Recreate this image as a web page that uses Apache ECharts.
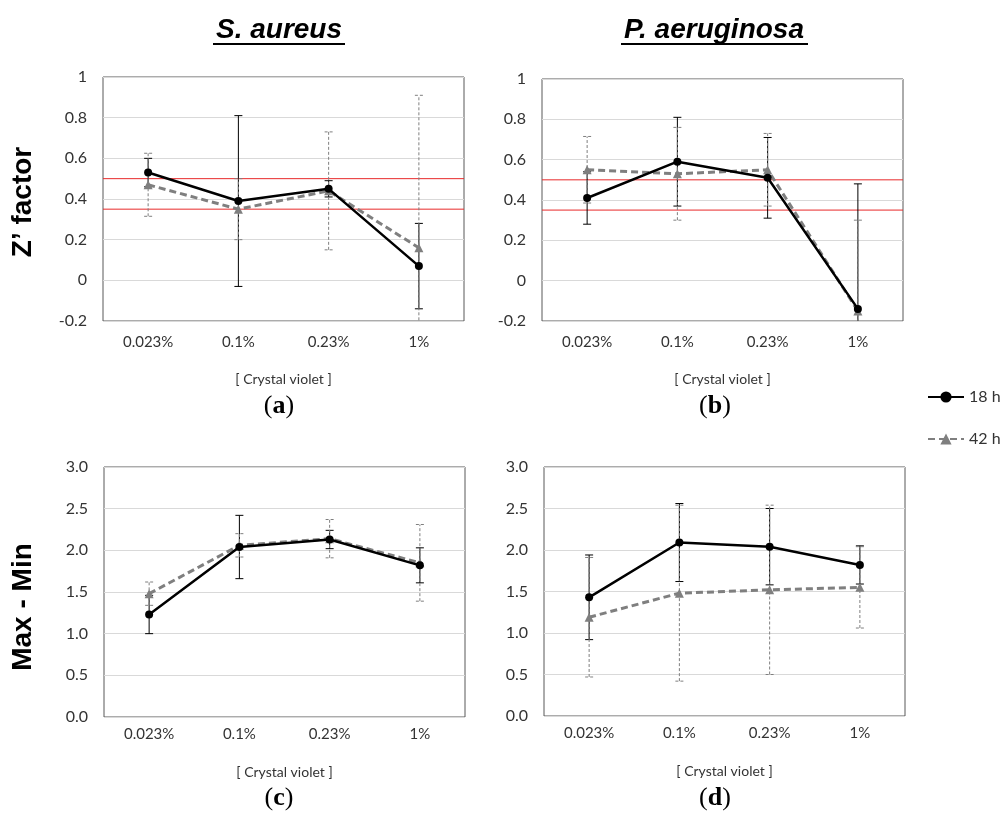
<!DOCTYPE html>
<html>
<head>
<meta charset="utf-8">
<script src="https://cdn.jsdelivr.net/npm/echarts@6/dist/echarts.min.js"></script>
<style>
html, body { margin: 0; padding: 0; background: #fff; }
#chart { width: 1008px; height: 834px; }
</style>
</head>
<body>
<div id="chart"></div>
<script>
// concentrations on the x axis
const categories = ['0.023%', '0.1%', '0.23%', '1%'];

// (a) S. aureus, Z' factor
const zAureus18 = [0.53, 0.39, 0.45, 0.07];
const zAureus18Err = [0.07, 0.42, 0.04, 0.21];
const zAureus42 = [0.47, 0.35, 0.44, 0.16];
const zAureus42Err = [0.155, 0.15, 0.29, 0.75];

// (b) P. aeruginosa, Z' factor
const zPaer18 = [0.41, 0.59, 0.51, -0.14];
const zPaer18Err = [0.13, 0.22, 0.2, 0.62];
const zPaer42 = [0.55, 0.53, 0.55, -0.15];
const zPaer42Err = [0.165, 0.23, 0.18, 0.45];

// (c) S. aureus, Max - Min
const mAureus18 = [1.23, 2.04, 2.13, 1.82];
const mAureus18Err = [0.23, 0.38, 0.11, 0.21];
const mAureus42 = [1.48, 2.06, 2.14, 1.85];
const mAureus42Err = [0.14, 0.14, 0.23, 0.46];

// (d) P. aeruginosa, Max - Min
const mPaer18 = [1.43, 2.09, 2.04, 1.82];
const mPaer18Err = [0.51, 0.47, 0.46, 0.23];
const mPaer42 = [1.19, 1.48, 1.52, 1.55];
const mPaer42Err = [0.72, 1.06, 1.02, 0.49];

// red threshold lines on the Z' panels
const zThresholds = [0.5, 0.35];

const BLACK = '#000000';
const GREY = '#7f7f7f';
const RED = '#e8292a';
const TICK_FONT = 'Lato';

function errData(vals, errs) {
    return vals.map((v, i) => [i, v - errs[i], v + errs[i]]);
}

function errRender(color, dashed) {
    return function (params, api) {
        const idx = api.value(0);
        const lo = api.coord([idx, api.value(1)]);
        const hi = api.coord([idx, api.value(2)]);
        const cap = 4;
        const style = { stroke: color, lineWidth: 1, lineDash: dashed ? [3, 2] : null };
        return {
            type: 'group',
            children: [
                { type: 'line', shape: { x1: lo[0], y1: lo[1], x2: hi[0], y2: hi[1] }, style: style },
                { type: 'line', shape: { x1: hi[0] - cap, y1: hi[1], x2: hi[0] + cap, y2: hi[1] }, style: style },
                { type: 'line', shape: { x1: lo[0] - cap, y1: lo[1], x2: lo[0] + cap, y2: lo[1] }, style: style }
            ]
        };
    };
}

// horizontal threshold line across the whole plot area
function thresholdRender(params, api) {
    const y = api.coord([0, api.value(0)])[1];
    const cs = params.coordSys;
    return {
        type: 'line',
        shape: { x1: cs.x, y1: y, x2: cs.x + cs.width, y2: y },
        style: { stroke: RED, lineWidth: 1 }
    };
}

const grids = [
    { left: 103, top: 77, width: 361, height: 244 },
    { left: 542, top: 79, width: 361, height: 242 },
    { left: 104, top: 467, width: 361, height: 250 },
    { left: 544, top: 467, width: 361, height: 249 }
];

const panels = [
    { s18: zAureus18, e18: zAureus18Err, s42: zAureus42, e42: zAureus42Err, z: true },
    { s18: zPaer18, e18: zPaer18Err, s42: zPaer42, e42: zPaer42Err, z: true },
    { s18: mAureus18, e18: mAureus18Err, s42: mAureus42, e42: mAureus42Err, z: false },
    { s18: mPaer18, e18: mPaer18Err, s42: mPaer42, e42: mPaer42Err, z: false }
];

let xAxes = [], yAxes = [], series = [];
panels.forEach((p, i) => {
    xAxes.push({
        type: 'category',
        gridIndex: i,
        data: categories,
        boundaryGap: true,
        axisTick: { show: false },
        axisLine: { show: false },
        axisLabel: { margin: p.z ? 14 : 10, fontSize: 15, color: '#333', fontFamily: TICK_FONT },
        name: '[ Crystal violet ]',
        nameLocation: 'middle',
        nameGap: p.z ? 51 : 48,
        nameTextStyle: { fontSize: 14, color: '#333', fontFamily: TICK_FONT }
    });
    yAxes.push({
        type: 'value',
        gridIndex: i,
        min: p.z ? -0.2 : 0,
        max: p.z ? 1 : 3,
        interval: p.z ? 0.2 : 0.5,
        axisLine: { show: false },
        axisTick: { show: false },
        splitLine: { lineStyle: { color: '#d9d9d9', width: 1 } },
        axisLabel: {
            margin: 16, fontSize: 16, color: '#333', fontFamily: TICK_FONT,
            formatter: p.z ? null : (v) => v.toFixed(1)
        }
    });
    if (p.z) {
        series.push({
            type: 'custom',
            xAxisIndex: i,
            yAxisIndex: i,
            data: zThresholds.map(t => [t]),
            encode: { y: 0 },
            renderItem: thresholdRender,
            silent: true,
            z: 1
        });
    }
    series.push({
        type: 'custom',
        xAxisIndex: i,
        yAxisIndex: i,
        data: errData(p.s18, p.e18),
        renderItem: errRender(BLACK, false),
        encode: { x: 0, y: [1, 2] },
        clip: true,
        silent: true,
        z: 2
    });
    series.push({
        type: 'custom',
        xAxisIndex: i,
        yAxisIndex: i,
        data: errData(p.s42, p.e42),
        renderItem: errRender(GREY, true),
        encode: { x: 0, y: [1, 2] },
        clip: true,
        silent: true,
        z: 2
    });
    series.push({
        name: '42 h',
        type: 'line',
        xAxisIndex: i,
        yAxisIndex: i,
        data: p.s42,
        symbol: 'triangle',
        symbolSize: 9,
        color: GREY,
        itemStyle: { color: GREY },
        lineStyle: { color: GREY, width: 3, type: [7, 4] },
        z: 3
    });
    series.push({
        name: '18 h',
        type: 'line',
        xAxisIndex: i,
        yAxisIndex: i,
        data: p.s18,
        symbol: 'circle',
        symbolSize: 8,
        color: BLACK,
        itemStyle: { color: BLACK },
        lineStyle: { color: BLACK, width: 2.5 },
        z: 4
    });
});

function titleText(text, cx, x1, x2) {
    return [
        {
            type: 'text', x: cx, y: 30,
            style: {
                text: text, align: 'center', verticalAlign: 'middle',
                textAlign: 'center', textVerticalAlign: 'middle',
                fontSize: 28, fontWeight: 'bold', fontStyle: 'italic',
                fontFamily: 'Liberation Sans', fill: '#000'
            }
        },
        { type: 'line', shape: { x1: x1, y1: 44, x2: x2, y2: 44 }, style: { stroke: '#000', lineWidth: 2 } }
    ];
}

function yName(text, cy) {
    return {
        type: 'text', x: 23, y: cy, rotation: Math.PI / 2,
        style: {
            text: text, align: 'center', verticalAlign: 'middle',
            textAlign: 'center', textVerticalAlign: 'middle',
            fontSize: 28, fontWeight: 'bold', fontFamily: 'Liberation Sans', fill: '#000'
        }
    };
}

function panelLabel(letter, cx, cy) {
    return {
        type: 'text', x: cx, y: cy,
        style: {
            text: '{p|(}{l|' + letter + '}{p|)}',
            align: 'center', verticalAlign: 'middle',
            textAlign: 'center', textVerticalAlign: 'middle',
            rich: {
                p: { fontSize: 26, fontFamily: 'Liberation Serif', color: '#000' },
                l: { fontSize: 26, fontWeight: 'bold', fontFamily: 'Liberation Serif', color: '#000' }
            }
        }
    };
}

const graphics = [].concat(
    titleText('S. aureus', 279, 213, 345),
    titleText('P. aeruginosa', 714, 621, 808),
    [
        yName('Z\u2019 factor', 202),
        yName('Max - Min', 607),
        panelLabel('a', 279, 406),
        panelLabel('b', 715, 406),
        panelLabel('c', 279, 798),
        panelLabel('d', 715, 798)
    ]
);

const myChart = echarts.init(document.getElementById('chart'));
myChart.setOption({
    animation: false,
    backgroundColor: '#fff',
    grid: grids.map(g => Object.assign({ show: true, borderColor: '#595959', borderWidth: 1, backgroundColor: 'transparent' }, g)),
    legend: {
        data: ['18 h', '42 h'],
        orient: 'vertical',
        left: 922,
        top: 384,
        itemWidth: 36,
        itemHeight: 14,
        itemGap: 26,
        textStyle: { fontSize: 16, color: '#333', fontFamily: TICK_FONT }
    },
    xAxis: xAxes,
    yAxis: yAxes,
    series: series,
    graphic: graphics
});
</script>
</body>
</html>
